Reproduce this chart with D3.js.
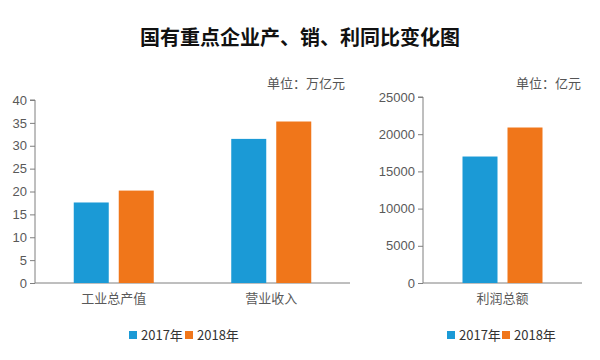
<!DOCTYPE html>
<html><head><meta charset="utf-8">
<script src="https://cdn.jsdelivr.net/npm/d3@7"></script>
<style>body{margin:0;background:#fff}</style>
</head><body>
<svg id="c" width="600" height="360"></svg>
<script>
const series = ["2017年", "2018年"];
const leftCategories = ["工业总产值", "营业收入"];
const left2017 = [17.6, 31.5];
const left2018 = [20.2, 35.3];
const leftTicks = [0, 5, 10, 15, 20, 25, 30, 35, 40];
const rightCategories = ["利润总额"];
const right2017 = [17000];
const right2018 = [20900];
const rightTicks = [0, 5000, 10000, 15000, 20000, 25000];
const colors = ["#1b9ad6", "#f0761a"];

const svg = d3.select("#c");
const font = "'Noto Sans CJK SC','Liberation Sans',sans-serif";
const txt = "#595959";

svg.append("text").attr("x", 300).attr("y", 45).attr("text-anchor", "middle")
  .attr("font-family", font).attr("font-weight", "bold").attr("font-size", 20)
  .attr("fill", "#111").text("国有重点企业产、销、利同比变化图");

function panel(cfg) {
  const y = d3.scaleLinear().domain([0, cfg.max]).range([cfg.y0, cfg.y1]);
  const x = d3.scaleBand().domain(cfg.cats).range([cfg.x0, cfg.x1]).paddingInner(0).paddingOuter(0);
  const g = svg.append("g");
  const ya = g.append("g").attr("transform", `translate(${cfg.x0},0)`)
    .call(d3.axisLeft(y).tickValues(cfg.ticks).tickFormat(d3.format("d")).tickSize(5).tickPadding(3));
  ya.select(".domain").attr("stroke", "#7f7f7f").attr("d", `M-5,${cfg.y1}H0V${cfg.y0}`);
  ya.selectAll(".tick line").attr("stroke", "#7f7f7f");
  ya.selectAll("text").attr("font-family", "'Liberation Sans',sans-serif").attr("font-size", 13).attr("fill", txt);
  g.append("line").attr("x1", cfg.x0).attr("x2", cfg.x1).attr("y1", cfg.y0).attr("y2", cfg.y0)
    .attr("stroke", "#7f7f7f");
  const sub = d3.scaleBand().domain(series).range([0, x.bandwidth()]);
  const data = cfg.cats.flatMap((c, i) => [
    {c, s: series[0], v: cfg.v1[i]}, {c, s: series[1], v: cfg.v2[i]}]);
  const bw = cfg.barW, gap = cfg.gap;
  g.selectAll("rect.bar").data(data).join("rect").attr("class", "bar")
    .attr("x", d => x(d.c) + x.bandwidth() / 2 + (d.s === series[0] ? -gap / 2 - bw : gap / 2))
    .attr("width", bw)
    .attr("y", d => y(d.v)).attr("height", d => y(0) - y(d.v))
    .attr("fill", d => colors[series.indexOf(d.s)]);
  g.selectAll("text.cat").data(cfg.cats).join("text").attr("class", "cat")
    .attr("x", d => x(d) + x.bandwidth() / 2).attr("y", cfg.y0 + 20)
    .attr("text-anchor", "middle").attr("font-family", font).attr("font-size", 13)
    .attr("fill", txt).text(d => d);
  g.append("text").attr("x", cfg.unitX).attr("y", 88).attr("text-anchor", "end")
    .attr("font-family", font).attr("font-size", 13).attr("fill", "#555").text(cfg.unit);
  series.forEach((s, i) => {
    const lx = cfg.legX + i * cfg.legStep;
    g.append("rect").attr("x", lx).attr("y", 331).attr("width", 8).attr("height", 8).attr("fill", colors[i]);
    g.append("text").attr("x", lx + 12).attr("y", 340).attr("font-family", font)
      .attr("font-size", 13).attr("fill", "#333").text(s);
  });
}

panel({cats: leftCategories, v1: left2017, v2: left2018, max: 40, ticks: leftTicks,
  x0: 35, x1: 350, y0: 283, y1: 100, barW: 35, gap: 10, unit: "单位：万亿元", unitX: 345,
  legX: 129, legStep: 56});
panel({cats: rightCategories, v1: right2017, v2: right2018, max: 25000, ticks: rightTicks,
  x0: 423, x1: 582, y0: 283, y1: 97, barW: 35, gap: 10, unit: "单位：亿元", unitX: 581,
  legX: 447, legStep: 55});
</script>
</body></html>
